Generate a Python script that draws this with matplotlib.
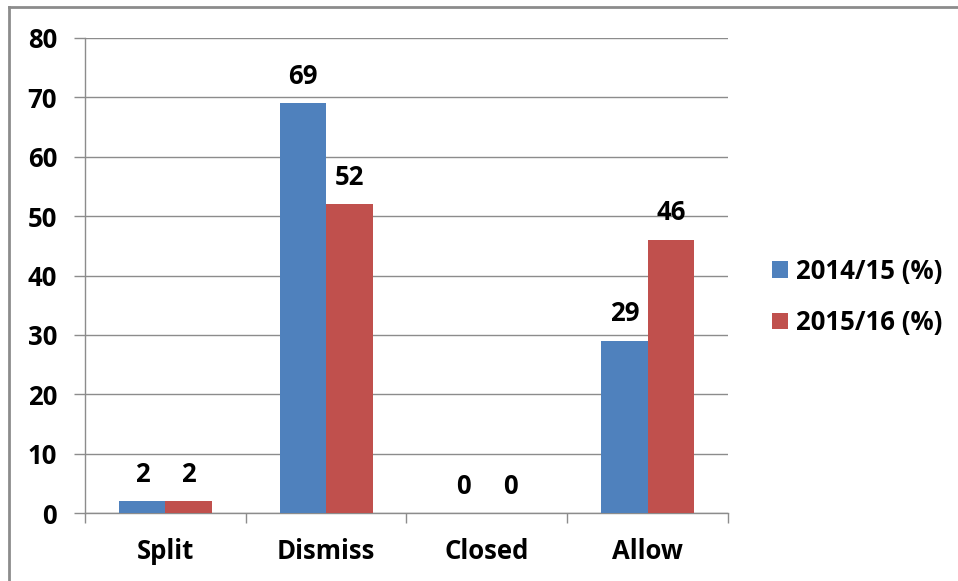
import numpy as np
import matplotlib.pyplot as plt
from matplotlib.lines import Line2D

categories = ['Split', 'Dismiss', 'Closed', 'Allow']
y2014 = [2, 69, 0, 29]
y2015 = [2, 52, 0, 46]
series_names = ['2014/15 (%)', '2015/16 (%)']

blue = '#4F81BD'
red = '#C0504D'
grey = '#8C8C8C'

plt.rcParams['font.family'] = ['Open Sans', 'DejaVu Sans']
plt.rcParams['font.weight'] = 'bold'
fs = 18.5

fig = plt.figure(figsize=(9.58, 5.81), dpi=100)
ax = fig.add_axes([85/958, 1 - 513/581, (728-85)/958, (513-38)/581])

x = np.arange(len(categories))
w = 0.29
b1 = ax.bar(x - w/2, y2014, w, color=blue, label=series_names[0], zorder=3)
b2 = ax.bar(x + w/2, y2015, w, color=red, label=series_names[1], zorder=3)

# value labels above each bar
for bars, vals in ((b1, y2014), (b2, y2015)):
    for rect, v in zip(bars, vals):
        ax.annotate(str(v), (rect.get_x() + rect.get_width()/2, v),
                    xytext=(0, 14), textcoords='offset points',
                    ha='center', va='baseline', fontsize=fs, fontweight='bold')

ax.set_xlim(-0.5, len(categories) - 0.5)
ax.set_ylim(0, 80)
ax.set_yticks(range(0, 81, 10))
ax.yaxis.grid(True, color=grey, linewidth=1, zorder=0)

ax.set_xticks(np.arange(-0.5, len(categories), 1))
ax.set_xticklabels([])
ax.set_xticks(x, minor=True)
ax.set_xticklabels(categories, minor=True, fontsize=fs, fontweight='bold')
ax.tick_params(axis='x', which='major', length=7, color=grey, width=1, direction='out')
ax.tick_params(axis='x', which='minor', length=0, pad=18)
ax.tick_params(axis='y', length=8, color=grey, width=1, labelsize=fs, pad=12)
for t in ax.get_yticklabels():
    t.set_fontweight('bold')

for side in ('top', 'right'):
    ax.spines[side].set_visible(False)
for side in ('left', 'bottom'):
    ax.spines[side].set_color(grey)
    ax.spines[side].set_linewidth(1)

ax.legend(loc='center left', bbox_to_anchor=(1.033, 0.455), frameon=False,
          prop={'size': fs, 'weight': 'bold'}, handlelength=0.62,
          handleheight=0.62, handletextpad=0.3, labelspacing=0.95)

# outer frame (top and left edges)
fig.add_artist(Line2D([9/958, 1], [1 - 7/581, 1 - 7/581], color=grey, lw=2,
                      transform=fig.transFigure))
fig.add_artist(Line2D([9/958, 9/958], [0, 1 - 7/581], color=grey, lw=2,
                      transform=fig.transFigure))

fig.savefig('out.png', dpi=100)
